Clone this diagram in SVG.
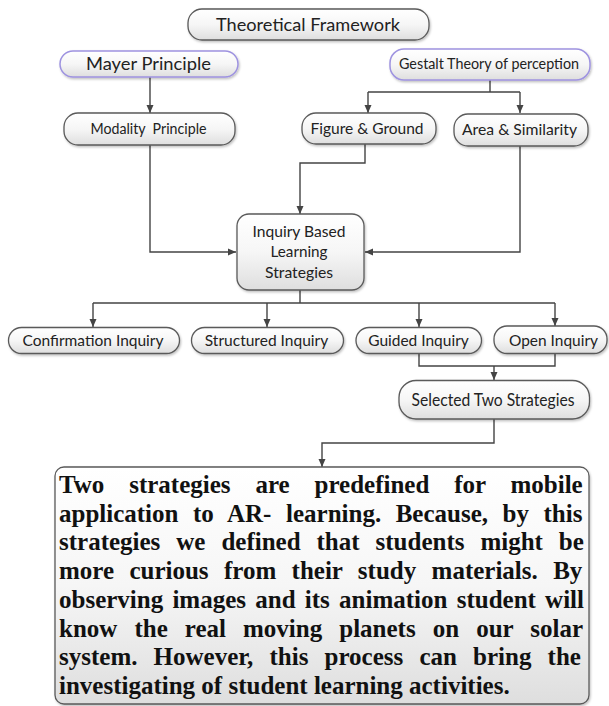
<svg xmlns="http://www.w3.org/2000/svg" width="609" height="706" viewBox="0 0 609 706">
<style>
.box{fill:url(#g);stroke:#5a5a5a;stroke-width:1.3;filter:url(#sh)}
.pbox{fill:url(#g);stroke:#9e93e0;stroke-width:1.5;filter:url(#sh)}
.lbl{font-family:Lato,"Liberation Sans",sans-serif;fill:#222;text-anchor:middle}
.con{fill:none;stroke:#444;stroke-width:1.4}
.arr{marker-end:url(#ah)}
.para{font-family:"Liberation Serif","Times New Roman",serif;font-weight:bold;font-size:25px;fill:#111}
</style>
<defs>
<linearGradient id="g" x1="0" y1="0" x2="0" y2="1">
<stop offset="0" stop-color="#ffffff"/>
<stop offset="0.5" stop-color="#f6f6f6"/>
<stop offset="1" stop-color="#dedede"/>
</linearGradient>
<filter id="sh" x="-10%" y="-10%" width="120%" height="130%">
<feDropShadow dx="1" dy="1.5" stdDeviation="1" flood-color="#000" flood-opacity="0.25"/>
</filter>
<marker id="ah" markerWidth="8" markerHeight="8" viewBox="0 0 8 8" refX="8" refY="4" orient="auto" markerUnits="userSpaceOnUse">
<path d="M0,0.5 L8,4 L0,7.5 Z" fill="#444"/>
</marker>
</defs>
<rect width="609" height="706" fill="#fff"/>
<g id="connectors">
<path class="con arr" d="M150,77 V113"/>
<path class="con" d="M490,80 V92 M368,92 H520"/>
<path class="con arr" d="M368,92 V113"/>
<path class="con arr" d="M520,92 V113"/>
<path class="con arr" d="M150,145 V252 H236"/>
<path class="con arr" d="M365,144 V163 H300 V214"/>
<path class="con arr" d="M520,146 V252 H365"/>
<path class="con" d="M300,290 V303 M93,303 H555"/>
<path class="con arr" d="M93,303 V327"/>
<path class="con arr" d="M267,303 V327"/>
<path class="con arr" d="M419,303 V327"/>
<path class="con arr" d="M555,303 V326"/>
<path class="con" d="M419,353 V366 H555 V353"/>
<path class="con arr" d="M494,366 V380"/>
<path class="con arr" d="M494,419 V443 H322 V467"/>
</g>
<g id="theoretical-framework">
<rect class="box" x="188" y="9" width="241" height="31" rx="14"/>
<text class="lbl" x="308" y="31" font-size="18" textLength="184" lengthAdjust="spacingAndGlyphs">Theoretical Framework</text>
</g>
<g id="mayer-principle">
<rect class="pbox" x="60" y="51" width="178" height="26" rx="13"/>
<text class="lbl" x="148.5" y="70" font-size="18" textLength="125" lengthAdjust="spacingAndGlyphs">Mayer Principle</text>
</g>
<g id="gestalt">
<rect class="pbox" x="390" y="49" width="200" height="31" rx="14"/>
<text class="lbl" x="489" y="69" font-size="14.5" textLength="180" lengthAdjust="spacingAndGlyphs">Gestalt Theory of perception</text>
</g>
<g id="modality-principle">
<rect class="box" x="64" y="113" width="171" height="32" rx="14"/>
<text class="lbl" x="148.5" y="134" font-size="14.5" textLength="116" lengthAdjust="spacingAndGlyphs" xml:space="preserve">Modality  Principle</text>
</g>
<g id="figure-ground">
<rect class="box" x="302" y="113" width="134" height="31" rx="14"/>
<text class="lbl" x="367" y="134" font-size="16" textLength="113" lengthAdjust="spacingAndGlyphs">Figure &amp; Ground</text>
</g>
<g id="area-similarity">
<rect class="box" x="454" y="114" width="134" height="32" rx="14"/>
<text class="lbl" x="519.5" y="135" font-size="16" textLength="115" lengthAdjust="spacingAndGlyphs">Area &amp; Similarity</text>
</g>
<g id="inquiry-based">
<rect class="box" x="237" y="214" width="127" height="76" rx="12"/>
<text class="lbl" x="299" y="237" font-size="16" textLength="93" lengthAdjust="spacingAndGlyphs">Inquiry Based</text>
<text class="lbl" x="299" y="257" font-size="16" textLength="57" lengthAdjust="spacingAndGlyphs">Learning</text>
<text class="lbl" x="299" y="278" font-size="16" textLength="68" lengthAdjust="spacingAndGlyphs">Strategies</text>
</g>
<g id="confirmation-inquiry">
<rect class="box" x="8.5" y="327.5" width="171" height="26" rx="13"/>
<text class="lbl" x="93" y="346" font-size="16" textLength="141" lengthAdjust="spacingAndGlyphs">Confirmation Inquiry</text>
</g>
<g id="structured-inquiry">
<rect class="box" x="191.5" y="327.5" width="152" height="26" rx="13"/>
<text class="lbl" x="266.5" y="346" font-size="16" textLength="123.5" lengthAdjust="spacingAndGlyphs">Structured Inquiry</text>
</g>
<g id="guided-inquiry">
<rect class="box" x="356" y="327.5" width="125.5" height="26" rx="13"/>
<text class="lbl" x="418.5" y="346" font-size="16" textLength="100.5" lengthAdjust="spacingAndGlyphs">Guided Inquiry</text>
</g>
<g id="open-inquiry">
<rect class="box" x="494" y="326" width="113" height="27.5" rx="13"/>
<text class="lbl" x="553.5" y="346" font-size="16" textLength="89" lengthAdjust="spacingAndGlyphs">Open Inquiry</text>
</g>
<g id="selected-two-strategies">
<rect class="box" x="399" y="380.5" width="190.5" height="38.5" rx="17"/>
<text class="lbl" x="493" y="406" font-size="17" textLength="163" lengthAdjust="spacingAndGlyphs">Selected Two Strategies</text>
</g>
<g id="description">
<rect class="box" x="55" y="467" width="534" height="237" rx="9"/>
<text class="para" x="59" y="493" word-spacing="18.6">Two strategies are predefined for mobile</text>
<text class="para" x="59" y="521.7" word-spacing="8.3">application to AR- learning. Because, by this</text>
<text class="para" x="59" y="550.4" word-spacing="9.7">strategies we defined that students might be</text>
<text class="para" x="59" y="579.1" word-spacing="9.1">more curious from their study materials. By</text>
<text class="para" x="59" y="607.8" word-spacing="3.0">observing images and its animation student will</text>
<text class="para" x="59" y="636.5" word-spacing="10.8">know the real moving planets on our solar</text>
<text class="para" x="59" y="665.2" word-spacing="9.9">system. However, this process can bring the</text>
<text class="para" x="59" y="694">investigating of student learning activities.</text>
</g>
</svg>
